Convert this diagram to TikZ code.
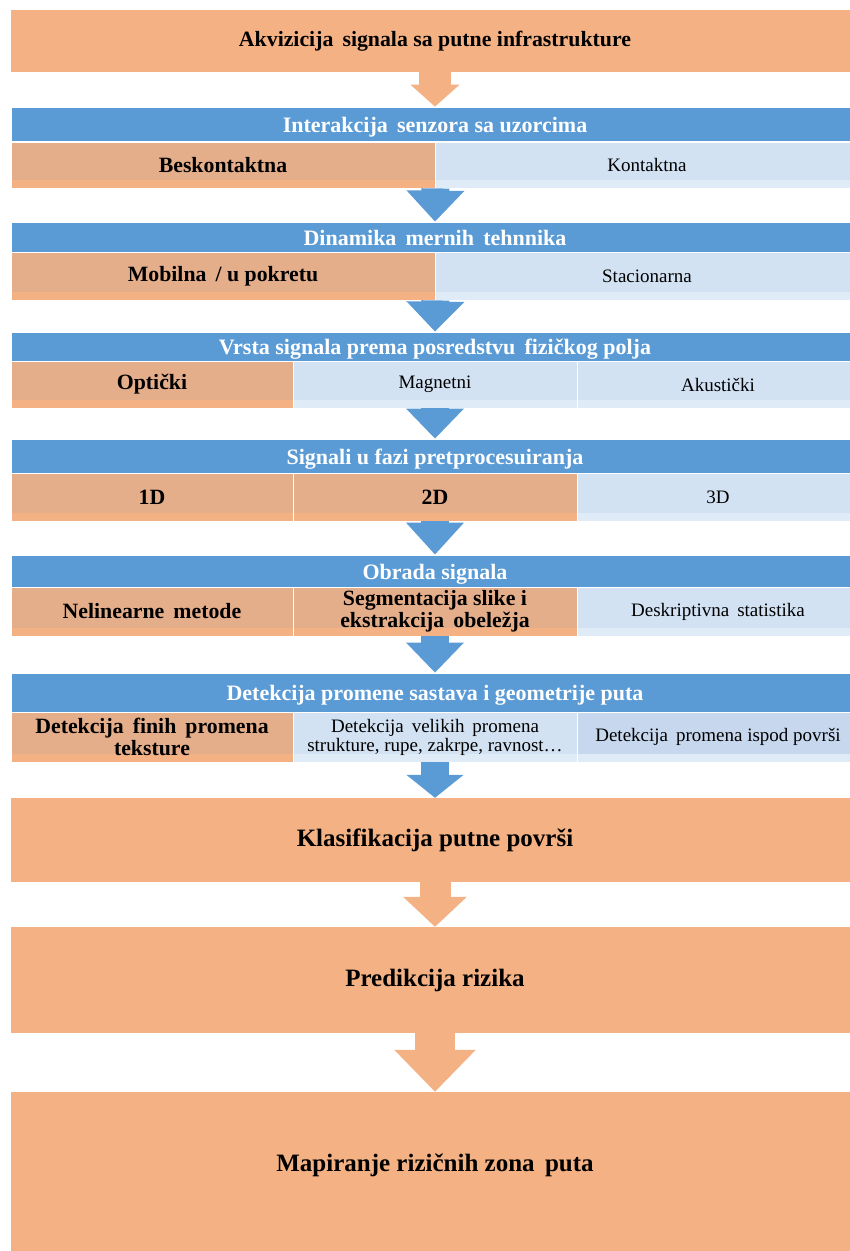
\documentclass[tikz,border=0pt]{standalone}
\usepackage{fontspec}
\setmainfont{Liberation Serif}
\usetikzlibrary{arrows.meta}
\definecolor{peach}{HTML}{F4B183}
\definecolor{peachdk}{HTML}{E5AE8A}
\definecolor{steel}{HTML}{5B9BD5}
\definecolor{ice}{HTML}{D2E2F3}
\definecolor{icelo}{HTML}{DFEBF7}
\definecolor{icedk}{HTML}{C7D8EE}
\tikzset{
    bigbox/.style={fill=peach, minimum width=848pt, inner sep=0pt, font=\bfseries\fontsize{25}{28}\selectfont},
    hdr/.style={fill=steel, draw=white, line width=0.8pt, text=white, minimum width=848pt, inner sep=0pt, text height=18pt, text depth=1.5pt, font=\bfseries\fontsize{22}{24}\selectfont},
    strip/.style={path picture={\fill[#1] ([yshift=8pt]path picture bounding box.south west) rectangle (path picture bounding box.south east);}},
    warm/.style={fill=peachdk, strip=peach, draw=white, line width=0.8pt, inner sep=0pt, align=center, font=\bfseries\fontsize{21.8}{22}\selectfont},
    cool/.style={fill=ice, strip=icelo, draw=white, line width=0.8pt, inner sep=0pt, align=center, font=\fontsize{19}{19}\selectfont},
    cooldk/.style={cool, fill=icedk},
    pointer/.style n args={4}{draw=#1, line width=#2, -{Triangle[width=#3, length=#4]}}
}
\begin{document}
\begin{tikzpicture}[x=1pt, y=-1pt]
\useasboundingbox (0,0) rectangle (850,1251);
\clip (0,0) rectangle (850,1251);
\fill[white] (0,0) rectangle (850,1251);
% big boxes
\node (akv) [bigbox, minimum height=62pt, font=\bfseries\fontsize{21.8}{24}\selectfont] at (435,41) {Akvizicija\, signala sa putne infrastrukture};
\node (klas) [bigbox, minimum height=84pt] at (435,840) {Klasifikacija putne površi};
\node (pred) [bigbox, minimum height=106pt] at (435,980) {Predikcija rizika};
\node (mapi) [bigbox, minimum height=159pt, text height=17pt, text depth=18pt] at (435,1171.5) {Mapiranje rizičnih zona\, puta};
% headers
\foreach \n/\y/\h/\t in {h1/124/34/{Interakcija\, senzora sa uzorcima}, h2/237/30/{Dinamika\, mernih\, tehnnika}, h3/346.5/29/{Vrsta signala prema posredstvu\, fizičkog polja}, h4/456/34/{Signali u fazi pretprocesuiranja}, h5/571/32/{Obrada signala}, h6/692.5/39/{Detekcija promene sastava i geometrije puta}}{
    \node (\n) [hdr, minimum height=\h pt] at (435,\y) {\t};
}
% cells
\foreach \n/\x/\y/\w/\h/\s/\t in {
    b1/223/165/424/46/warm/{Beskontaktna}, k1/647/165/424/46/cool/{Kontaktna},
    m2/223/276/424/48/warm/{Mobilna\, / u pokretu}, s2/647/276/424/48/cool/{Stacionarna},
    o3/152/384.5/282/47/warm/{Optički}, g3/435/384.5/284/47/cool/{Magnetni}, a3/718/384.5/282/47/cool/{Akustički},
    d1/152/497/282/48/warm/{1D}, d2/435/497/284/48/warm/{2D}, d3/718/497/282/48/cool/{3D},
    n5/152/611.5/282/49/warm/{Nelinearne\, metode}, e5/435/611.5/284/49/warm/{Segmentacija slike i\\ekstrakcija\, obeležja}, s5/718/611.5/282/49/cool/{Deskriptivna\, statistika},
    f6/152/737/282/50/warm/{Detekcija\, finih\, promena\\teksture}, v6/435/737/284/50/cool/{Detekcija\, velikih\, promena\\strukture, rupe, zakrpe, ravnost…}, p6/718/737/282/50/cooldk/{Detekcija\, promena ispod površi}}{
    \node (\n) [\s, minimum width=\w pt, minimum height=\h pt] at (\x,\y) {\t};
}
% arrows
\draw[pointer={peach}{32pt}{48pt}{22pt}] (akv.south) -- (h1.north);
\draw[pointer={steel}{28pt}{56pt}{31pt}] (b1.south east) -- (h2.north);
\draw[pointer={steel}{28pt}{56pt}{30pt}] (m2.south east) -- (h3.north);
\draw[pointer={steel}{28pt}{56pt}{30pt}] (g3.south) -- (h4.north);
\draw[pointer={steel}{28pt}{56pt}{32pt}] (d2.south) -- (h5.north);
\draw[pointer={steel}{28pt}{56pt}{30pt}] (e5.south) -- (h6.north);
\draw[pointer={steel}{28pt}{56pt}{23pt}] (v6.south) -- (klas.north);
\draw[pointer={peach}{31pt}{62pt}{30pt}] (klas.south) -- (pred.north);
\draw[pointer={peach}{40pt}{79pt}{42pt}] (pred.south) -- (mapi.north);
\end{tikzpicture}
\end{document}
